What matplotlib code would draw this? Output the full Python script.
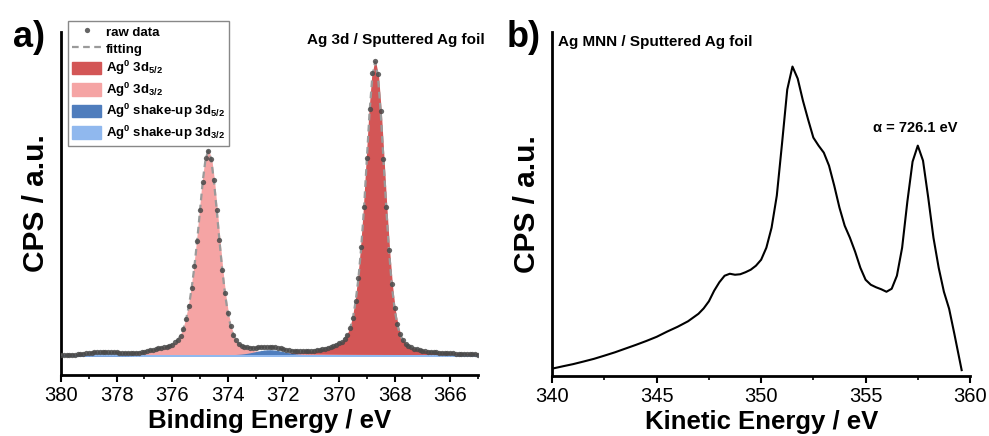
import numpy as np
import matplotlib.pyplot as plt
from matplotlib.ticker import MultipleLocator

plt.rcParams['font.family'] = ['Liberation Sans', 'DejaVu Sans']
plt.rcParams['mathtext.fontset'] = 'custom'
plt.rcParams['mathtext.rm'] = 'Liberation Sans:bold'
plt.rcParams['mathtext.it'] = 'Liberation Sans:bold'
plt.rcParams['mathtext.bf'] = 'Liberation Sans:bold'
plt.rcParams['mathtext.default'] = 'rm'

# ---- a) Ag 3d, binding energy grid 365.0 ... 380.0 eV in 0.1 eV steps ----
be = np.round(np.linspace(365.0, 380.0, 151), 1)

raw_3d = [
    0.9, 1.2, 1.1, 1.4, 1.3, 1.6, 1.5, 1.8, 1.7, 2.0,
    2.1, 2.3, 2.3, 2.7, 2.8, 3.1, 3.2, 3.7, 3.9, 4.4,
    4.9, 5.3, 6.2, 6.9, 8.1, 9.6, 11.9, 15.5, 21.4, 31.3,
    47.2, 71.0, 105.1, 148.2, 196.0, 244.5, 281.0, 294.0, 282.0, 246.0,
    197.5, 148.5, 108.8, 77.0, 54.0, 37.0, 27.2, 20.6, 16.3, 13.9,
    12.0, 10.7, 9.2, 8.4, 7.4, 6.9, 6.2, 5.9, 5.2, 4.9,
    4.5, 4.4, 4.0, 4.2, 4.1, 4.4, 4.4, 4.9, 5.2, 5.8,
    6.2, 7.0, 7.4, 8.0, 8.2, 8.6, 8.4, 8.6, 8.2, 8.2,
    7.7, 7.8, 7.6, 8.0, 8.3, 9.7, 11.3, 15.1, 20.3, 29.8,
    42.0, 62.5, 85.0, 115.5, 145.0, 175.5, 196.0, 204.5, 197.5, 173.5,
    145.5, 114.5, 89.0, 67.0, 49.5, 36.0, 26.6, 19.6, 15.4, 13.1,
    10.9, 9.9, 8.9, 8.4, 7.6, 7.1, 6.4, 5.9, 5.1, 4.5,
    3.8, 3.4, 2.8, 2.6, 2.3, 2.1, 2.2, 2.2, 2.5, 2.6,
    3.0, 3.2, 3.5, 3.7, 3.8, 3.8, 3.7, 3.4, 3.3, 2.8,
    2.5, 2.1, 1.8, 1.4, 1.2, 0.9, 0.8, 0.6, 0.6, 0.5, 0.4,
]

ag_3d52 = [
    1.0, 1.1, 1.1, 1.2, 1.3, 1.35, 1.4, 1.5, 1.6, 1.8,
    1.9, 2.0, 2.2, 2.4, 2.6, 2.8, 3.1, 3.4, 3.7, 4.1,
    4.6, 5.2, 5.8, 6.7, 7.7, 9.2, 11.4, 14.8, 20.6, 30.4,
    46, 70, 104, 147, 195, 243, 279, 293, 279, 243,
    195, 147, 108, 77, 54, 37, 27, 20, 16, 13.3,
    11.6, 10, 8.7, 7.7, 6.9, 6.2, 5.6, 5.1, 4.5, 4.0,
    3.7, 3.3, 3.0, 2.8, 2.6, 2.4, 2.2, 2.0, 1.9, 1.7,
    1.6, 1.5, 1.4, 1.3, 1.25, 1.15, 1.1, 1.05, 1.0, 0.95,
    0.9, 0.87, 0.84, 0.8, 0.77, 0.74, 0.71, 0.68, 0.66, 0.63,
    0.61, 0.59, 0.57, 0.55, 0.53, 0.51, 0.5, 0.48, 0.47, 0.45,
    0.44, 0.43, 0.41, 0.4, 0.39, 0.38, 0.37, 0.36, 0.35, 0.34,
    0.33, 0.32, 0.31, 0.3, 0.3, 0.29, 0.28, 0.28, 0.27, 0.26,
    0.26, 0.25, 0.25, 0.24, 0.24, 0.23, 0.23, 0.22, 0.22, 0.21,
    0.21, 0.2, 0.2, 0.2, 0.19, 0.19, 0.18, 0.18, 0.18, 0.17,
    0.17, 0.17, 0.16, 0.16, 0.16, 0.15, 0.15, 0.15, 0.15, 0.14, 0.14,
]

ag_3d32 = [
    0.14, 0.15, 0.15, 0.15, 0.16, 0.16, 0.16, 0.17, 0.17, 0.17,
    0.18, 0.18, 0.18, 0.19, 0.19, 0.2, 0.2, 0.2, 0.21, 0.21,
    0.22, 0.22, 0.23, 0.23, 0.24, 0.25, 0.25, 0.26, 0.26, 0.27,
    0.28, 0.28, 0.29, 0.3, 0.31, 0.32, 0.33, 0.34, 0.35, 0.36,
    0.37, 0.38, 0.39, 0.4, 0.42, 0.43, 0.45, 0.47, 0.48, 0.5,
    0.52, 0.55, 0.57, 0.6, 0.63, 0.66, 0.69, 0.73, 0.77, 0.81,
    0.85, 0.9, 0.95, 1.01, 1.08, 1.15, 1.22, 1.3, 1.4, 1.5,
    1.6, 1.7, 1.85, 2.0, 2.15, 2.35, 2.55, 2.8, 3.1, 3.5,
    3.8, 4.3, 4.9, 5.6, 6.6, 8.1, 10.3, 13.9, 19.7, 28.7,
    42, 61, 85, 114, 145, 174, 196, 204, 196, 174,
    145, 115, 89, 67, 49, 36, 26, 19.5, 15.1, 12.6,
    10.7, 9.5, 8.7, 8.0, 7.4, 6.8, 6.2, 5.6, 4.9, 4.2,
    3.6, 3.0, 2.5, 2.1, 1.8, 1.5, 1.3, 1.15, 1.05, 0.95,
    0.88, 0.82, 0.76, 0.71, 0.66, 0.62, 0.58, 0.55, 0.52, 0.49,
    0.47, 0.45, 0.43, 0.41, 0.39, 0.37, 0.36, 0.35, 0.34, 0.33, 0.32,
]

shake_52 = [0.0] * 58 + [
    0.02, 0.035, 0.065, 0.11, 0.19, 0.31, 0.49, 0.73, 1.05, 1.46,
    1.95, 2.5, 3.09, 3.68, 4.21, 4.63, 4.9, 5.0, 4.9, 4.63,
    4.21, 3.68, 3.09, 2.5, 1.95, 1.46, 1.05, 0.73, 0.49, 0.31,
    0.19, 0.11, 0.065, 0.035, 0.02,
] + [0.0] * 58

shake_32 = [0.0] * 120 + [
    0.04, 0.07, 0.12, 0.19, 0.29, 0.44, 0.63, 0.88, 1.17, 1.5,
    1.85, 2.21, 2.53, 2.78, 2.94, 3.0, 2.94, 2.78, 2.53, 2.21,
    1.85, 1.5, 1.17, 0.88, 0.63, 0.44, 0.29, 0.19, 0.12, 0.07, 0.04,
]

components = [
    (ag_3d52, '#d35656', r'Ag$^{0}$ 3d$_{5/2}$'),
    (ag_3d32, '#f5a4a4', r'Ag$^{0}$ 3d$_{3/2}$'),
    (shake_52, '#4f7dbd', r'Ag$^{0}$ shake-up 3d$_{5/2}$'),
    (shake_32, '#90b8ee', r'Ag$^{0}$ shake-up 3d$_{3/2}$'),
]

# ---- b) Ag MNN, kinetic energy ----
ke = [340.0, 340.5, 341.0, 341.5, 342.0, 342.5, 343.0, 343.5, 344.0, 344.5,
      345.0, 345.5, 346.0, 346.5, 347.0, 347.25, 347.5, 347.75, 348.0, 348.25,
      348.5, 348.75, 349.0, 349.25, 349.5, 349.75, 350.0, 350.25, 350.5, 350.75,
      351.0, 351.25, 351.5, 351.75, 352.0, 352.25, 352.5, 352.75, 353.0, 353.25,
      353.5, 353.75, 354.0, 354.25, 354.5, 354.75, 355.0, 355.25, 355.5, 355.75,
      356.0, 356.25, 356.5, 356.75, 357.0, 357.25, 357.5, 357.75, 358.0, 358.25,
      358.5, 358.75, 359.0, 359.25, 359.6]
mnn = [7.2, 9.5, 11.7, 14.3, 17, 20.2, 23.5, 27.2, 30.9, 34.8,
       39, 44.2, 49, 54.5, 62, 67.4, 74.5, 85, 93.5, 100,
       102, 101, 101.5, 103.5, 106, 110, 116, 128, 148, 180,
       232, 286, 309, 297, 275, 256, 238, 230, 223, 210,
       190, 168, 150, 138, 124, 108, 96, 91, 88.5, 86.5,
       84, 87, 100, 128, 174, 214, 230, 215, 178, 138,
       108, 84, 67, 42, 5.7]

fig = plt.figure(figsize=(9.89, 4.36), dpi=100)
ax1 = fig.add_axes([0.0617, 0.140, 0.4216, 0.787])
ax2 = fig.add_axes([0.5584, 0.138, 0.4224, 0.789])

for ax in (ax1, ax2):
    for s in ('top', 'right'):
        ax.spines[s].set_visible(False)
    ax.spines['left'].set_linewidth(2)
    ax.spines['bottom'].set_linewidth(2)
    ax.set_yticks([])
    ax.tick_params(axis='x', which='major', length=5, width=1.5, labelsize=14.5, pad=3)
    ax.tick_params(axis='x', which='minor', length=3, width=1.2)
    ax.set_ylabel('CPS / a.u.', fontsize=21.5, fontweight='bold', labelpad=8)

handles = []
for vals, col, lab in components:
    h = ax1.fill_between(be, 0, vals, facecolor=col, edgecolor=col, linewidth=1, label=lab, zorder=1)
    handles.append(h)
fit = np.sum([c[0] for c in components], axis=0)
hf, = ax1.plot(be, fit, ls=(0, (3, 2)), color='#9a9a9a', lw=1.6, zorder=3, label='fitting')
hr, = ax1.plot(be, raw_3d, 'o', ms=3.8, color='#4a4a4a', alpha=0.85, mec='none', zorder=4, label='raw data')

ax1.set_xlim(380, 365)
ax1.set_ylim(-19.5, 323.5)
ax1.xaxis.set_major_locator(MultipleLocator(2))
ax1.xaxis.set_minor_locator(MultipleLocator(1))
ax1.set_xlabel('Binding Energy / eV', fontsize=18.5, fontweight='bold', labelpad=3)
ax1.text(1.017, 0.975, 'Ag 3d / Sputtered Ag foil', transform=ax1.transAxes,
         ha='right', va='center', fontsize=11, fontweight='bold')

ax2.plot(ke, mnn, color='black', lw=1.5)
ax2.set_xlim(340, 360)
ax2.set_ylim(0, 343.7)
ax2.xaxis.set_major_locator(MultipleLocator(5))
ax2.xaxis.set_minor_locator(MultipleLocator(2.5))
ax2.set_xlabel('Kinetic Energy / eV', fontsize=18.5, fontweight='bold', labelpad=3)
ax2.text(0.014, 0.971, 'Ag MNN / Sputtered Ag foil', transform=ax2.transAxes,
         ha='left', va='center', fontsize=11, fontweight='bold')
ax2.text(357.4, 248, 'α = 726.1 eV', ha='center', va='center', fontsize=10.5, fontweight='bold')

fig.legend([hr, hf] + handles,
           ['raw data', 'fitting'] + [c[2] for c in components],
           loc='upper left', bbox_to_anchor=(0.069, 0.952),
           prop={'weight': 'bold', 'size': 9.5},
           fancybox=False, edgecolor='#888888', framealpha=1,
           handlelength=2.2, handleheight=1.1, handletextpad=0.35,
           labelspacing=0.25, borderpad=0.3, borderaxespad=0)

fig.text(0.013, 0.955, 'a)', fontsize=26, fontweight='bold', va='top')
fig.text(0.512, 0.955, 'b)', fontsize=26, fontweight='bold', va='top')

fig.savefig('out.png', dpi=100)
